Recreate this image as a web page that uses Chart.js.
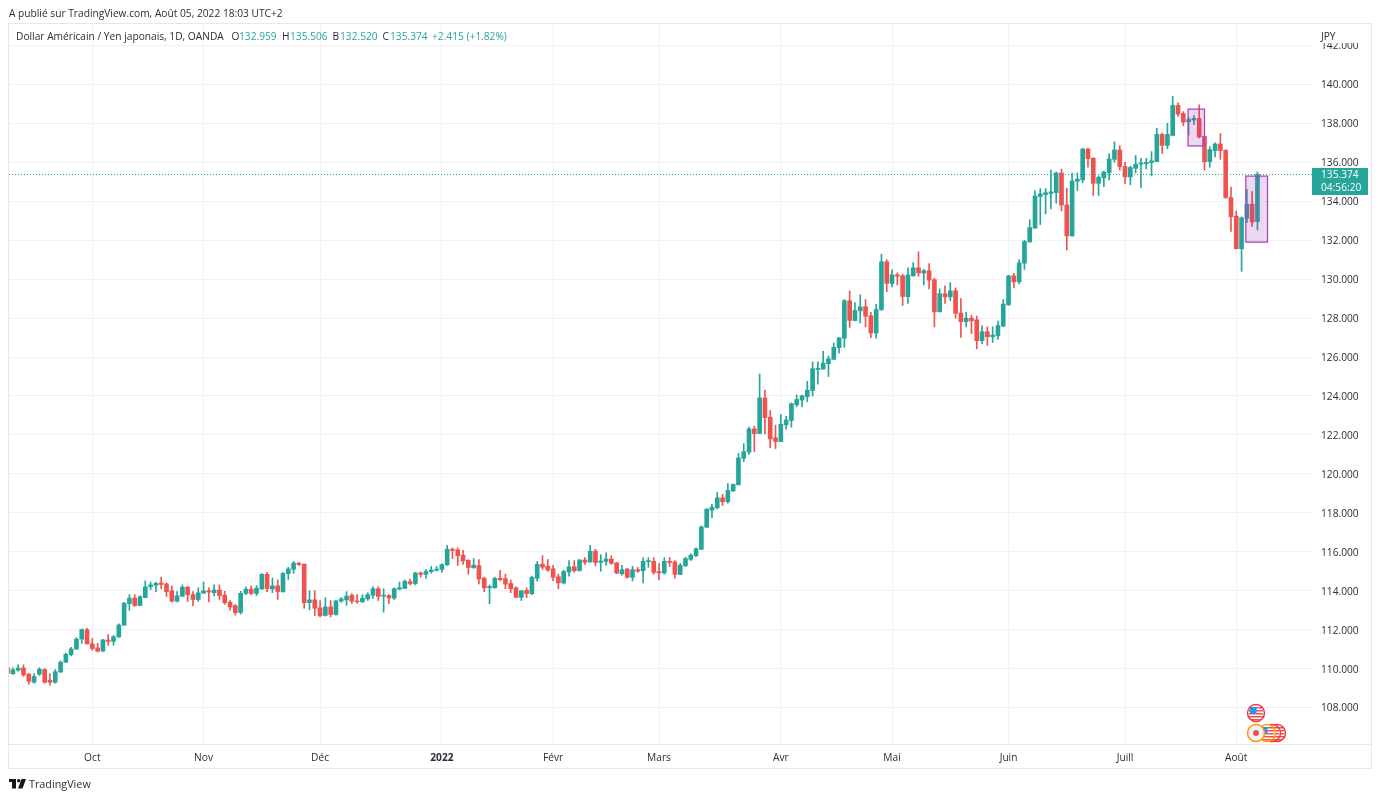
<!DOCTYPE html>
<html>
<head>
<meta charset="utf-8">
<title>USD/JPY</title>
<script src="https://cdn.jsdelivr.net/npm/chart.js@4"></script>
<style>
  html, body { margin: 0; padding: 0; background: #fff; }
  canvas { display: block; }
</style>
</head>
<body>
<canvas id="chart" width="1381" height="800"></canvas>
<script>
// bougies journalieres, du 9 sept. 2021 au 5 aout 2022
const opens = [110.05,
  109.74,109.92,110.03,109.72,109.30,109.72,109.95,109.40,109.30,109.83,
  110.33,110.72,111.00,111.52,112.00,111.27,111.06,110.90,111.47,111.40,
  111.63,112.23,113.34,113.62,113.24,113.65,114.20,114.28,114.40,114.35,
  114.00,113.46,113.72,114.18,113.80,113.55,113.87,114.00,113.90,114.04,
  113.77,113.41,113.23,112.89,113.86,114.08,113.86,114.09,114.84,114.09,
  114.25,113.94,114.88,115.10,115.42,115.36,113.39,113.53,113.12,112.73,
  113.17,112.78,113.47,113.53,113.76,113.48,113.43,113.58,113.77,114.10,
  113.72,113.75,113.62,114.08,114.12,114.47,114.37,114.91,114.84,114.98,
  115.05,115.09,115.33,116.13,116.10,115.83,115.56,115.18,115.29,114.64,
  114.15,114.15,114.64,114.62,114.37,114.15,113.66,114.02,113.85,114.64,
  115.36,115.26,115.13,114.72,114.40,114.96,115.23,115.04,115.58,115.48,
  116.03,115.46,115.50,115.63,115.43,114.87,115.11,114.69,115.08,115.03,
  115.50,115.51,114.99,114.91,115.51,115.48,114.84,115.28,115.61,115.80,
  116.13,117.26,118.14,118.26,118.77,118.57,119.12,119.44,120.80,121.12,
  122.31,122.07,123.90,122.91,121.85,121.66,122.52,122.74,123.55,123.79,
  123.96,124.28,125.36,125.38,125.66,125.88,126.48,126.96,128.89,127.87,
  128.37,128.58,128.12,127.23,128.43,130.89,129.77,130.22,130.17,129.10,
  130.17,130.58,130.31,130.43,129.97,128.32,129.25,129.09,129.40,128.26,
  127.81,128.00,127.91,126.84,127.30,127.04,127.09,127.59,128.68,130.17,
  129.86,130.82,131.91,132.62,134.24,134.34,134.39,134.44,135.45,133.81,
  132.22,135.03,135.09,136.68,136.20,134.92,135.20,135.47,136.15,136.63,
  135.78,135.25,135.69,135.90,135.93,135.98,136.03,137.43,136.87,137.38,
  138.92,138.50,138.08,138.17,138.25,137.33,136.03,136.60,136.94,136.61,
  134.19,133.23,131.56,133.12,133.85,132.959];
const highs = [110.30,
  110.04,110.20,110.20,109.75,109.75,110.05,110.00,109.75,109.95,110.40,
  110.80,111.10,111.60,112.05,112.07,111.55,111.30,111.50,111.75,111.70,
  112.30,113.40,113.80,113.80,113.75,114.50,114.45,114.45,114.70,114.40,
  114.25,113.95,114.30,114.22,113.95,114.15,114.45,114.15,114.30,114.30,
  113.97,113.50,113.30,113.97,114.20,114.25,114.27,114.88,114.95,114.65,
  114.55,114.95,115.20,115.50,115.45,115.38,114.00,114.00,113.50,113.65,
  113.50,113.50,113.65,113.95,113.85,113.80,113.80,113.90,114.20,114.20,
  114.10,113.80,114.15,114.45,114.55,114.60,114.95,114.97,115.10,115.25,
  115.25,115.40,116.33,116.20,116.20,116.08,115.60,115.65,115.60,114.70,
  114.30,114.70,115.05,114.85,114.55,114.20,114.00,114.15,114.75,115.50,
  115.80,115.60,115.30,114.85,115.05,115.55,115.55,115.60,115.70,116.33,
  116.13,115.85,115.95,115.80,115.45,115.30,115.15,115.25,115.20,115.70,
  115.70,115.70,115.40,115.70,115.70,115.55,115.40,115.72,115.90,116.20,
  117.33,118.22,118.45,119.05,118.95,119.50,119.47,121.05,121.55,122.40,
  122.45,125.13,124.30,123.25,122.50,123.05,122.95,123.65,124.05,124.05,
  124.75,125.75,125.75,126.30,126.05,126.72,127.00,128.95,129.40,128.80,
  129.20,128.95,128.30,128.70,131.28,131.00,130.48,130.32,130.25,130.58,
  130.85,131.40,130.50,130.80,130.05,129.50,129.65,129.82,129.55,129.00,
  128.30,128.15,128.10,127.60,127.55,127.55,127.85,128.95,130.20,130.30,
  131.00,132.00,133.05,134.55,134.65,134.65,135.60,135.50,135.65,134.67,
  135.45,135.45,136.72,136.72,136.25,135.30,135.55,136.45,137.05,136.85,
  136.00,135.80,136.35,136.20,136.20,136.55,137.75,137.50,138.00,139.38,
  139.05,138.60,138.30,138.40,138.95,137.35,136.80,137.00,137.47,136.65,
  134.72,133.50,133.20,134.60,134.50,135.506];
const lows = [109.70,
  109.70,109.87,109.60,109.20,109.25,109.65,109.25,109.15,109.25,109.80,
  110.30,110.65,111.00,111.30,111.27,110.95,110.85,110.88,111.20,111.20,
  111.60,112.23,113.00,113.20,113.22,113.63,114.05,113.95,114.10,113.70,
  113.42,113.42,113.70,113.45,113.22,113.45,113.87,113.42,113.75,113.55,
  113.30,113.00,112.75,112.80,113.80,113.80,113.75,114.08,113.95,113.90,
  113.55,113.94,114.58,114.90,115.30,113.10,113.02,112.72,112.65,112.70,
  112.65,112.75,113.40,113.25,113.35,113.35,113.40,113.50,113.60,113.50,
  112.90,113.35,113.55,114.05,114.10,114.30,114.30,114.70,114.63,114.90,
  115.00,114.95,115.30,115.65,115.30,115.35,114.85,115.15,114.35,113.95,
  113.33,114.13,114.50,114.10,113.90,113.66,113.50,113.65,113.80,114.50,
  115.10,115.00,114.50,114.10,114.35,114.75,114.95,115.00,115.35,115.45,
  115.28,115.00,115.30,115.35,114.87,114.80,114.65,114.50,114.95,114.40,
  115.20,114.85,114.55,114.85,115.25,114.65,114.82,115.25,115.55,115.75,
  116.10,117.25,117.75,118.20,118.38,118.50,119.10,119.44,120.63,121.00,
  121.15,122.07,122.05,121.35,121.30,121.66,122.30,122.40,123.45,123.45,
  123.70,124.00,124.60,125.38,125.00,125.88,126.20,126.50,127.52,127.85,
  127.75,127.55,127.00,126.97,128.40,129.35,129.60,129.70,128.65,128.75,
  130.15,130.15,129.70,129.50,127.55,128.32,128.75,128.90,128.00,127.01,
  127.55,127.20,126.42,126.67,126.60,126.75,126.90,127.55,128.66,129.55,
  129.75,130.50,131.90,132.60,132.80,133.35,133.60,133.90,133.50,131.50,
  132.20,134.55,134.95,135.75,134.30,134.30,134.75,135.10,136.00,135.60,
  134.90,134.85,135.45,134.70,135.65,135.30,136.03,136.45,136.70,137.35,
  138.35,137.88,137.40,137.95,137.25,135.60,135.75,136.27,136.15,134.15,
  132.45,131.56,130.40,132.90,132.70,132.520];
const closes = [109.75,
  109.94,110.03,109.68,109.35,109.60,109.97,109.30,109.30,109.84,110.33,
  110.74,111.01,111.51,112.00,111.27,111.03,110.90,111.47,111.40,111.64,
  112.24,113.36,113.62,113.24,113.69,114.20,114.30,114.38,114.32,113.95,
  113.46,113.74,114.18,113.80,113.55,113.89,113.99,113.93,114.04,113.75,
  113.38,113.17,112.87,113.87,114.08,113.86,114.13,114.84,114.11,114.25,
  113.96,114.89,115.12,115.42,115.34,113.38,113.53,113.10,112.71,113.17,
  112.78,113.48,113.58,113.72,113.46,113.43,113.61,113.80,114.10,113.71,
  113.75,113.63,114.10,114.15,114.49,114.37,114.91,114.84,114.99,115.06,
  115.11,115.34,116.13,116.07,115.80,115.53,115.19,115.31,114.60,114.15,
  114.22,114.64,114.57,114.34,114.10,113.66,114.00,113.85,114.69,115.36,
  115.21,115.06,114.69,114.40,114.99,115.23,115.03,115.58,115.46,116.03,
  115.45,115.53,115.63,115.41,114.91,115.08,114.69,115.08,115.00,115.51,
  115.55,114.94,114.91,115.51,115.45,114.84,115.31,115.65,115.82,116.15,
  117.28,118.19,118.29,118.77,118.57,119.15,119.46,120.82,121.14,122.31,
  122.07,123.90,122.89,121.79,121.66,122.55,122.77,123.60,123.82,124.01,
  124.30,125.40,125.42,125.69,125.91,126.50,126.98,128.89,127.88,128.39,
  128.58,128.09,127.23,128.44,130.89,129.78,130.22,130.15,129.11,130.22,
  130.58,130.32,130.43,129.95,128.32,129.25,129.09,129.40,128.24,127.81,
  128.00,127.86,126.84,127.30,127.04,127.13,127.62,128.72,130.17,129.86,
  130.84,131.93,132.65,134.27,134.38,134.44,134.48,135.45,133.80,132.22,
  135.04,135.13,136.68,136.19,134.92,135.23,135.50,136.17,136.63,135.78,
  135.25,135.73,135.90,135.97,136.00,136.07,137.43,136.87,137.43,138.92,
  138.47,138.06,138.20,138.25,137.30,136.03,136.65,136.94,136.60,134.19,
  133.20,131.56,133.15,133.85,132.93,135.374];

const monthLabels = ['Oct', 'Nov', 'Déc', '2022', 'Févr', 'Mars', 'Avr', 'Mai', 'Juin', 'Juill', 'Août'];
const monthIndex = [15, 36, 58, 81, 102, 122, 145, 166, 188, 210, 231];
const priceTicks = [108, 110, 112, 114, 116, 118, 120, 122, 124, 126, 128, 130, 132, 134, 136, 138, 140, 142];
const lastPrice = 135.374;
const countdown = '04:56:20';
// les deux rectangles dessines sur le graphique : x0, x1, prix haut, prix bas
const boxFrom = [221.9, 232.8];
const boxTo = [225.0, 236.9];
const boxTop = [138.73, 135.29];
const boxBottom = [136.84, 131.90];

const UP = '#26a69a', DOWN = '#ef5350', INK = '#2a2e39', GRID = '#f2f2f5';
const FONT = '"Open Sans", sans-serif';
const FONT_SIZE = 10.2;

const wicks = opens.map((o, i) => ({ x: i - 1, y: [lows[i], highs[i]] }));
const bodies = opens.map((o, i) => ({ x: i - 1, y: [o, closes[i]] }));
const colors = opens.map((o, i) => (closes[i] >= o ? UP : DOWN));

// tout ce que Chart.js ne sait pas dessiner seul
const decor = {
  id: 'decor',
  beforeDraw(chart) {
    const c = chart.ctx;
    c.save();
    c.fillStyle = '#fff';
    c.fillRect(0, 0, chart.width, chart.height);
    c.restore();
  },
  afterDatasetsDraw(chart) {
    const c = chart.ctx, x = chart.scales.x, y = chart.scales.y, a = chart.chartArea;
    c.save();
    // rectangles violets
    boxFrom.forEach((v, i) => {
      const x0 = x.getPixelForValue(v), x1 = x.getPixelForValue(boxTo[i]);
      const y0 = y.getPixelForValue(boxTop[i]), y1 = y.getPixelForValue(boxBottom[i]);
      c.fillStyle = 'rgba(156,39,176,0.18)';
      c.fillRect(x0, y0, x1 - x0, y1 - y0);
      c.strokeStyle = '#ab47bc';
      c.lineWidth = 1.3;
      c.strokeRect(x0, y0, x1 - x0, y1 - y0);
    });
    // ligne du dernier prix
    const py = Math.round(y.getPixelForValue(lastPrice)) + 0.5;
    c.strokeStyle = UP;
    c.lineWidth = 1;
    c.setLineDash([1, 2]);
    c.beginPath();
    c.moveTo(a.left, py);
    c.lineTo(a.right, py);
    c.stroke();
    c.setLineDash([]);
    // evenements en bas du graphique
    drawFlag(c, 1256, 713, '#f23645');
    drawFlag(c, 1277, 733, '#f23645');
    drawFlag(c, 1272, 733, '#f23645');
    drawFlag(c, 1267, 733, '#ff9800');
    c.beginPath();
    c.arc(1256, 733, 8.5, 0, Math.PI * 2);
    c.fillStyle = '#f0f3fa';
    c.fill();
    c.strokeStyle = '#ff9800';
    c.lineWidth = 1.5;
    c.stroke();
    c.beginPath();
    c.arc(1256, 733, 3, 0, Math.PI * 2);
    c.fillStyle = DOWN;
    c.fill();
    c.restore();
  },
  afterDraw(chart) {
    const c = chart.ctx, y = chart.scales.y, a = chart.chartArea;
    c.save();
    // cache le haut du 142.000, comme sur l'original
    c.fillStyle = '#fff';
    c.fillRect(a.right + 1, 25, 58, 18);
    // cadre
    c.strokeStyle = '#e6e7ec';
    c.lineWidth = 1;
    c.strokeRect(8.5, 23.5, 1363, 745);
    c.beginPath();
    c.moveTo(9, 744.5);
    c.lineTo(1371, 744.5);
    c.stroke();
    // etiquette du prix
    const py = y.getPixelForValue(lastPrice);
    c.fillStyle = UP;
    c.fillRect(a.right, py - 6.5, 56, 27);
    c.fillStyle = '#fff';
    c.font = FONT_SIZE + 'px ' + FONT;
    c.textBaseline = 'middle';
    c.fillText(lastPrice.toFixed(3), 1321, py + 1);
    c.fillText(countdown, 1321, py + 14);
    // textes du haut
    c.fillStyle = INK;
    c.fillText('A publié sur TradingView.com, Août 05, 2022 18:03 UTC+2', 9, 14);
    c.fillText('Dollar Américain / Yen japonais, 1D, OANDA', 16, 37);
    c.fillText('JPY', 1321, 37);
    [['O', 231.5, '132.959', 239], ['H', 282, '135.506', 290], ['B', 332.5, '132.520', 340], ['C', 382.5, '135.374', 390]].forEach(r => {
      c.fillStyle = INK;
      c.fillText(r[0], r[1], 37);
      c.fillStyle = UP;
      c.fillText(r[2], r[3], 37);
    });
    c.fillText('+2.415 (+1.82%)', 432, 37);
    // logo et marque
    c.fillStyle = '#131722';
    c.fillRect(9, 779, 7, 3);
    c.fillRect(12, 782, 4, 6.5);
    c.beginPath();
    c.arc(18.7, 780.7, 1.7, 0, Math.PI * 2);
    c.fill();
    c.beginPath();
    c.moveTo(21.5, 779);
    c.lineTo(26, 779);
    c.lineTo(22.5, 788.5);
    c.lineTo(18, 788.5);
    c.closePath();
    c.fill();
    c.font = '10.8px ' + FONT;
    c.fillStyle = INK;
    c.fillText('TradingView', 29, 785);
    c.restore();
  }
};

function drawFlag(c, x, y, ring) {
  c.save();
  c.beginPath();
  c.arc(x, y, 8.5, 0, Math.PI * 2);
  c.fillStyle = '#fff';
  c.fill();
  c.clip();
  c.fillStyle = '#ef5350';
  for (let k = -6; k < 7; k += 3) c.fillRect(x - 7, y + k, 14, 1.5);
  c.fillStyle = '#2196f3';
  c.fillRect(x - 6, y - 6, 6.5, 6.5);
  c.restore();
  c.beginPath();
  c.arc(x, y, 8.5, 0, Math.PI * 2);
  c.strokeStyle = ring;
  c.lineWidth = 1.5;
  c.stroke();
}

new Chart(document.getElementById('chart'), {
  type: 'bar',
  plugins: [decor],
  data: {
    datasets: [
      { data: bodies, backgroundColor: colors, barThickness: 4, minBarLength: 1, grouped: false },
      { data: wicks, backgroundColor: colors, barThickness: 1, grouped: false }
    ]
  },
  options: {
    responsive: false,
    animation: false,
    layout: { padding: { left: 9, top: 24, right: 0, bottom: 0 } },
    plugins: { legend: { display: false }, title: { display: false }, tooltip: { enabled: false } },
    scales: {
      x: {
        type: 'linear',
        offset: false,
        min: -0.737,
        max: 245.3,
        afterFit(s) { s.height = 56; },
        afterBuildTicks(s) { s.ticks = monthIndex.map(v => ({ value: v })); },
        border: { display: false },
        grid: { offset: false, color: GRID, drawTicks: false },
        ticks: {
          autoSkip: false,
          maxRotation: 0,
          padding: 8,
          color: INK,
          font: ctx => ({ family: FONT, size: FONT_SIZE, weight: ctx.tick && ctx.tick.value === 81 ? 'bold' : 'normal' }),
          callback: v => monthLabels[monthIndex.indexOf(v)]
        }
      },
      y: {
        position: 'right',
        min: 106.13,
        max: 143.1,
        afterFit(s) { s.width = 69; },
        afterBuildTicks(s) { s.ticks = priceTicks.map(v => ({ value: v })); },
        border: { display: false },
        grid: { color: GRID, drawTicks: false },
        ticks: {
          padding: 9,
          labelOffset: 1,
          color: INK,
          font: { family: FONT, size: FONT_SIZE },
          callback: v => v.toFixed(3)
        }
      }
    }
  }
});
</script>
</body>
</html>
